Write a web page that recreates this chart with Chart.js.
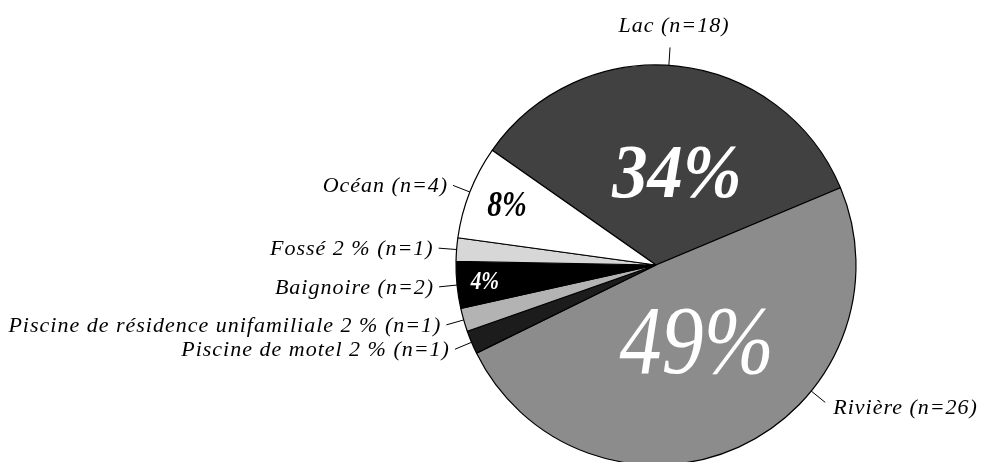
<!DOCTYPE html>
<html>
<head>
<meta charset="utf-8">
<script src="https://cdn.jsdelivr.net/npm/chart.js@4.4.1/dist/chart.umd.min.js"></script>
<style>
  html, body { margin: 0; padding: 0; background: #fff; overflow: hidden; }
  #wrap { width: 986px; height: 470px; }
</style>
</head>
<body>
<div id="wrap"><canvas id="pie" width="986" height="470"></canvas></div>
<script>
// data, clockwise from Lac
const names = ['Lac', 'Rivière', 'Piscine de motel', 'Piscine de résidence unifamiliale', 'Baignoire', 'Fossé', 'Océan'];
const counts = [18, 26, 1, 1, 2, 1, 4];
const fills = ['#414141', '#8c8c8c', '#1c1c1c', '#b3b3b3', '#000000', '#d7d7d7', '#ffffff'];
// percent shown inside the slice?
const inside = [true, true, false, false, true, false, true];

const total = counts.reduce((a, b) => a + b, 0);
const pct = counts.map(v => Math.round(v / total * 100));
const labels = names.map((n, i) => n + (inside[i] ? '' : ' ' + pct[i] + ' %') + ' (n=' + counts[i] + ')');

// label placement: fraction along the arc, inner label radius fraction, font
const leaderAt = [0.48, 0.35, 0.5, 0.5, 0.5, 0.5, 0.5];
const pctAt = [0.56, 0.49, 0.5, 0.5, 0.5, 0.5, 0.5];
const pctR = [0.45, 0.46, 0, 0, 0.86, 0, 0.8];
const pctFont = [
  'italic bold 76px "Liberation Serif"',
  'italic 98px "Liberation Serif"',
  '', '',
  'italic bold 25px "Liberation Serif"',
  '',
  'italic bold 35px "Liberation Serif"'
];
const pctScale = [0.93, 0.86, 1, 1, 0.85, 1, 0.85];
const pctColor = ['#fff', '#fff', '#000', '#000', '#fff', '#000', '#000'];

const sliceLabels = {
  id: 'sliceLabels',
  afterDatasetsDraw(chart) {
    const ctx = chart.ctx;
    const arcs = chart.getDatasetMeta(0).data;
    ctx.save();
    arcs.forEach((arc, i) => {
      const p = arc.getProps(['x', 'y', 'startAngle', 'endAngle', 'outerRadius']);
      const r = p.outerRadius;

      // leader line + outside label
      const a = p.startAngle + (p.endAngle - p.startAngle) * leaderAt[i];
      const x1 = p.x + Math.cos(a) * r, y1 = p.y + Math.sin(a) * r;
      const x2 = p.x + Math.cos(a) * (r + 18), y2 = p.y + Math.sin(a) * (r + 18);
      ctx.strokeStyle = '#000';
      ctx.lineWidth = 1;
      ctx.beginPath();
      ctx.moveTo(x1, y1);
      ctx.lineTo(x2, y2);
      ctx.stroke();

      ctx.font = 'italic 22px "Liberation Serif"';
      ctx.letterSpacing = '1px';
      ctx.fillStyle = '#000';
      const c = Math.cos(a), s = Math.sin(a);
      if (s < -0.95) {
        ctx.textAlign = 'center';
        ctx.textBaseline = 'alphabetic';
        ctx.fillText(labels[i], x2 + 4, y2 - 15);
      } else if (c < 0) {
        ctx.textAlign = 'right';
        ctx.textBaseline = 'middle';
        ctx.fillText(labels[i], x2 - 5, y2 + 1);
      } else {
        ctx.textAlign = 'left';
        ctx.textBaseline = 'middle';
        ctx.fillText(labels[i], x2 + 8, y2 + 6);
      }

      // percent inside
      if (inside[i]) {
        const b = p.startAngle + (p.endAngle - p.startAngle) * pctAt[i];
        const px = p.x + Math.cos(b) * r * pctR[i];
        const py = p.y + Math.sin(b) * r * pctR[i];
        ctx.save();
        ctx.translate(px, py);
        ctx.scale(pctScale[i], 1);
        ctx.font = pctFont[i];
        ctx.letterSpacing = '0px';
        ctx.fillStyle = pctColor[i];
        ctx.textAlign = 'center';
        ctx.textBaseline = 'middle';
        ctx.fillText(pct[i] + '%', 0, 0);
        ctx.restore();
      }
    });
    ctx.restore();
  }
};

new Chart(document.getElementById('pie'), {
  type: 'pie',
  data: {
    labels: names,
    datasets: [{
      data: counts,
      backgroundColor: fills,
      borderColor: '#000',
      borderWidth: 1.2,
      radius: 200
    }]
  },
  options: {
    responsive: false,
    animation: false,
    rotation: -55,
    layout: {
      padding: { top: 65, bottom: 5, left: 456, right: 130 }
    },
    plugins: {
      legend: { display: false },
      tooltip: { enabled: false }
    }
  },
  plugins: [sliceLabels]
});
</script>
</body>
</html>
